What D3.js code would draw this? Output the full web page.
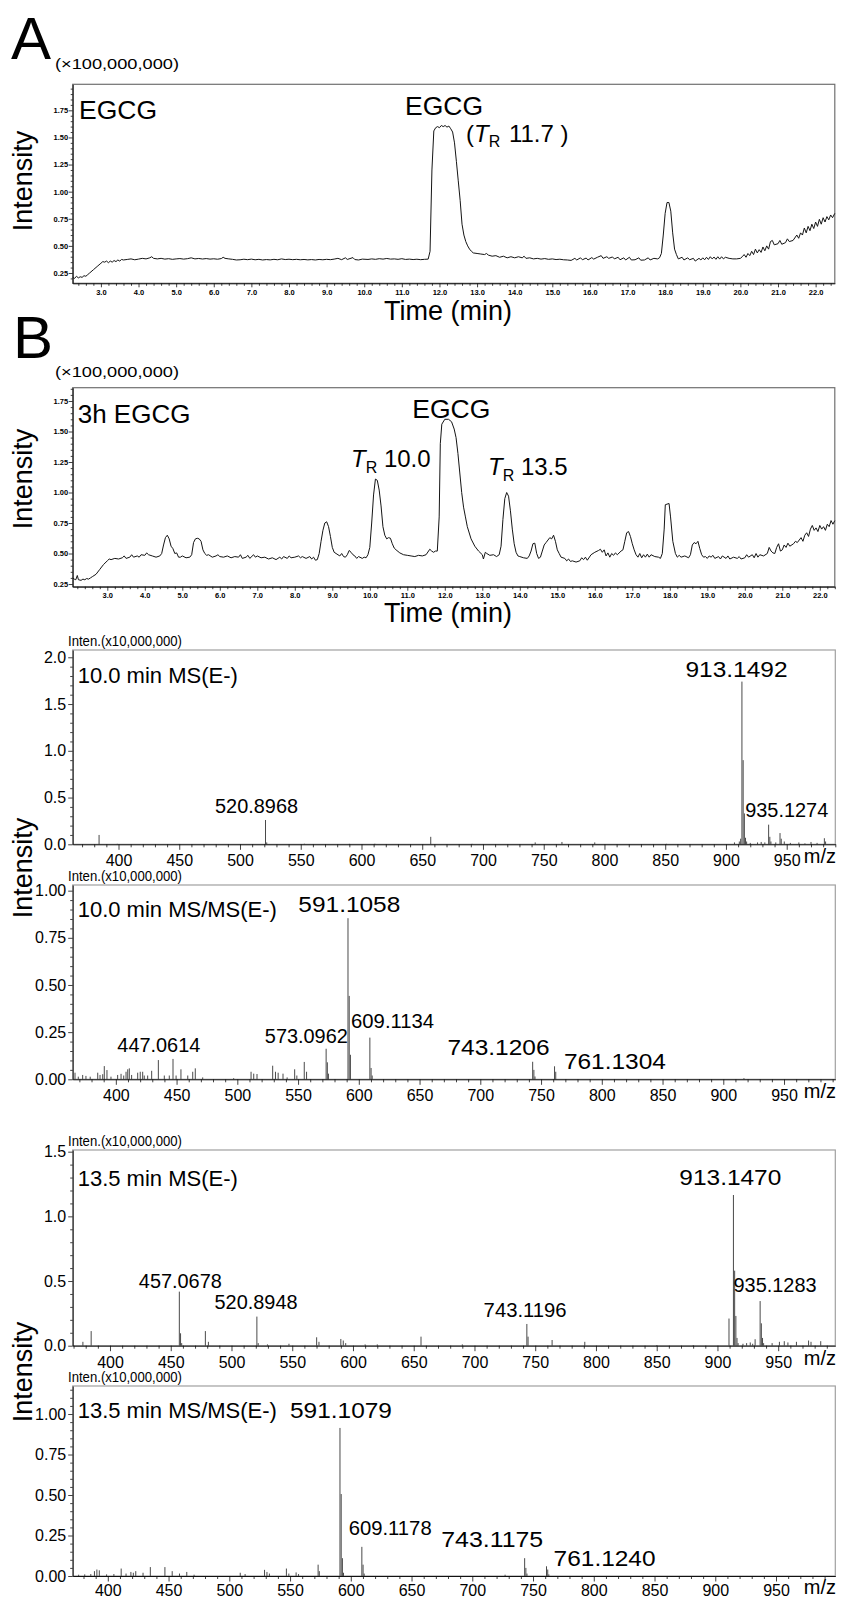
<!DOCTYPE html>
<html>
<head>
<meta charset="utf-8">
<script src="https://cdn.jsdelivr.net/npm/d3@7"></script>
<style>
  body { margin: 0; background: #fff; }
</style>
</head>
<body>
<div id="fig"></div>
<script>
// ---- chromatogram A : EGCG standard, [time (min), intensity x1e8]
const chromA = [
  [2.25,0.21],[2.3,0.20],[2.35,0.22],[2.4,0.205],[2.45,0.215],[2.5,0.21],[2.55,0.225],[2.6,0.22],[2.65,0.235],[2.7,0.25],
  [2.8,0.28],[2.9,0.31],[3.0,0.34],[3.05,0.355],[3.1,0.35],[3.15,0.36],[3.2,0.345],[3.25,0.36],[3.3,0.35],[3.35,0.365],
  [3.4,0.355],[3.45,0.37],[3.5,0.36],[3.55,0.375],[3.6,0.37],[3.7,0.375],[3.8,0.38],[3.9,0.372],[4.0,0.378],[4.1,0.385],
  [4.2,0.38],[4.3,0.39],[4.35,0.40],[4.4,0.385],[4.5,0.38],[4.6,0.385],[4.7,0.378],[4.8,0.382],[4.9,0.376],[5.0,0.38],
  [5.1,0.383],[5.2,0.378],[5.3,0.382],[5.4,0.39],[5.5,0.38],[5.6,0.384],[5.7,0.379],[5.8,0.383],[5.9,0.378],[6.0,0.381],
  [6.1,0.377],[6.2,0.383],[6.25,0.395],[6.3,0.385],[6.4,0.38],[6.5,0.376],[6.6,0.37],[6.7,0.372],[6.8,0.377],[6.9,0.373],
  [7.0,0.378],[7.1,0.372],[7.2,0.376],[7.3,0.37],[7.4,0.374],[7.5,0.371],[7.6,0.376],[7.7,0.372],[7.8,0.38],[7.9,0.374],
  [8.0,0.377],[8.1,0.373],[8.2,0.376],[8.3,0.372],[8.4,0.375],[8.5,0.371],[8.6,0.374],[8.7,0.37],[8.8,0.375],[8.9,0.372],
  [9.0,0.376],[9.1,0.373],[9.2,0.378],[9.3,0.385],[9.4,0.373],[9.5,0.39],[9.55,0.375],[9.7,0.392],[9.75,0.374],[9.85,0.37],
  [9.95,0.378],[10.1,0.375],[10.2,0.38],[10.3,0.376],[10.4,0.382],[10.5,0.378],[10.6,0.384],[10.7,0.378],[10.8,0.38],[10.9,0.376],
  [11.0,0.382],[11.1,0.375],[11.2,0.378],[11.3,0.374],[11.4,0.377],[11.5,0.373],[11.6,0.376],[11.7,0.378],
  [11.75,0.45],[11.8,1.2],[11.85,1.56],[11.9,1.59],[11.95,1.6],[12.0,1.59],[12.05,1.61],[12.1,1.6],[12.15,1.61],[12.2,1.595],
  [12.25,1.605],[12.3,1.58],[12.35,1.55],[12.4,1.45],[12.45,1.28],[12.5,1.1],[12.55,0.92],[12.6,0.70],[12.65,0.6],[12.7,0.54],
  [12.75,0.5],[12.8,0.47],[12.85,0.45],[12.9,0.435],[13.0,0.43],[13.1,0.425],[13.2,0.42],[13.25,0.43],[13.3,0.415],[13.4,0.405],
  [13.5,0.41],[13.6,0.395],[13.7,0.405],[13.8,0.39],[13.9,0.40],[14.0,0.39],[14.1,0.4],[14.2,0.39],[14.25,0.405],[14.3,0.385],
  [14.4,0.39],[14.5,0.38],[14.6,0.385],[14.7,0.378],[14.8,0.383],[14.9,0.376],[15.0,0.38],[15.1,0.374],[15.2,0.377],[15.3,0.372],
  [15.4,0.37],[15.5,0.366],[15.6,0.385],[15.65,0.37],[15.75,0.39],[15.8,0.372],[15.9,0.388],[15.95,0.37],[16.05,0.392],[16.1,0.378],
  [16.2,0.395],[16.3,0.41],[16.35,0.385],[16.45,0.4],[16.5,0.385],[16.6,0.398],[16.65,0.38],[16.75,0.395],[16.8,0.372],[16.9,0.39],
  [16.95,0.37],[17.05,0.395],[17.1,0.37],[17.2,0.372],[17.3,0.39],[17.35,0.368],[17.45,0.37],[17.55,0.39],[17.6,0.37],[17.7,0.385],
  [17.8,0.38],[17.85,0.39],[17.9,0.43],[17.95,0.6],[18.0,0.8],[18.05,0.9],[18.1,0.9],[18.15,0.82],[18.2,0.62],[18.25,0.47],
  [18.3,0.42],[18.35,0.38],[18.45,0.395],[18.5,0.37],[18.6,0.39],[18.65,0.372],[18.75,0.385],[18.8,0.36],[18.9,0.385],[18.95,0.37],
  [19.0,0.39],[19.05,0.372],[19.1,0.395],[19.15,0.375],[19.2,0.4],[19.25,0.38],[19.3,0.397],[19.35,0.376],[19.4,0.40],[19.45,0.378],
  [19.5,0.4],[19.55,0.38],[19.6,0.395],[19.7,0.385],[19.8,0.38],[19.9,0.38],[20.0,0.385],[20.05,0.40],[20.1,0.42],[20.15,0.395],
  [20.2,0.43],[20.25,0.41],[20.3,0.45],[20.35,0.42],[20.4,0.47],[20.45,0.435],[20.5,0.465],[20.55,0.44],[20.6,0.49],[20.65,0.455],
  [20.7,0.5],[20.75,0.47],[20.8,0.54],[20.85,0.55],[20.9,0.51],[21.0,0.52],[21.05,0.55],[21.1,0.515],[21.2,0.53],[21.25,0.565],
  [21.3,0.54],[21.4,0.55],[21.5,0.6],[21.55,0.57],[21.6,0.62],[21.65,0.6],[21.7,0.665],[21.75,0.62],[21.8,0.68],[21.85,0.64],
  [21.9,0.7],[21.95,0.66],[22.0,0.72],[22.05,0.68],[22.1,0.745],[22.15,0.7],[22.2,0.76],[22.25,0.72],[22.3,0.77],[22.35,0.74],
  [22.4,0.785],[22.45,0.76],[22.51,0.80]
];

// ---- chromatogram B : 3h EGCG
const chromB = [
  [2.08,0.30],[2.12,0.29],[2.16,0.285],[2.2,0.32],[2.23,0.285],[2.3,0.28],[2.35,0.29],[2.4,0.285],[2.45,0.295],[2.5,0.29],
  [2.55,0.30],[2.6,0.31],[2.7,0.33],[2.8,0.37],[2.9,0.41],[3.0,0.44],[3.05,0.455],[3.1,0.45],[3.2,0.46],[3.3,0.455],
  [3.4,0.465],[3.45,0.48],[3.5,0.46],[3.6,0.47],[3.65,0.49],[3.7,0.47],[3.8,0.48],[3.85,0.47],[3.9,0.49],[4.0,0.485],
  [4.05,0.505],[4.1,0.49],[4.2,0.48],[4.3,0.47],[4.4,0.48],[4.45,0.50],[4.5,0.57],[4.55,0.63],[4.6,0.65],[4.65,0.62],
  [4.7,0.56],[4.75,0.54],[4.8,0.50],[4.85,0.505],[4.9,0.47],[4.95,0.47],[5.0,0.48],[5.1,0.465],[5.2,0.47],[5.25,0.49],
  [5.3,0.59],[5.35,0.62],[5.4,0.625],[5.45,0.62],[5.5,0.60],[5.55,0.53],[5.6,0.5],[5.65,0.485],[5.7,0.49],[5.8,0.47],
  [5.9,0.48],[5.95,0.49],[6.0,0.475],[6.1,0.47],[6.2,0.48],[6.3,0.465],[6.4,0.475],[6.5,0.47],[6.55,0.49],[6.6,0.46],
  [6.7,0.47],[6.75,0.485],[6.8,0.46],[6.9,0.49],[6.95,0.47],[7.0,0.48],[7.1,0.465],[7.2,0.47],[7.3,0.455],[7.4,0.465],
  [7.5,0.45],[7.6,0.47],[7.65,0.455],[7.7,0.475],[7.8,0.46],[7.85,0.48],[7.9,0.465],[8.0,0.47],[8.1,0.48],[8.15,0.465],
  [8.2,0.475],[8.3,0.46],[8.4,0.475],[8.45,0.455],[8.5,0.47],[8.55,0.445],[8.6,0.45],[8.65,0.5],[8.7,0.6],[8.75,0.69],
  [8.8,0.75],[8.85,0.76],[8.9,0.72],[8.95,0.64],[9.0,0.55],[9.05,0.51],[9.1,0.5],[9.2,0.48],[9.25,0.5],[9.3,0.475],
  [9.35,0.47],[9.4,0.49],[9.45,0.525],[9.5,0.51],[9.55,0.49],[9.6,0.48],[9.65,0.46],[9.7,0.475],[9.8,0.46],[9.85,0.47],
  [9.9,0.465],[9.95,0.49],[10.0,0.55],[10.05,0.75],[10.1,0.98],[10.15,1.11],[10.2,1.10],[10.25,1.02],[10.3,0.89],[10.35,0.72],
  [10.4,0.65],[10.45,0.62],[10.5,0.63],[10.55,0.625],[10.6,0.58],[10.65,0.545],[10.7,0.53],[10.8,0.505],[10.9,0.49],[11.0,0.485],
  [11.1,0.48],[11.2,0.475],[11.3,0.485],[11.4,0.48],[11.5,0.49],[11.6,0.535],[11.65,0.52],[11.7,0.51],[11.75,0.52],[11.8,0.52],
  [11.85,0.8],[11.88,1.4],[11.92,1.56],[12.0,1.60],[12.1,1.6],[12.18,1.58],[12.25,1.52],[12.3,1.45],[12.35,1.32],[12.4,1.16],
  [12.45,1.0],[12.5,0.88],[12.55,0.80],[12.6,0.72],[12.7,0.62],[12.8,0.56],[12.9,0.52],[13.0,0.49],[13.03,0.455],[13.08,0.51],
  [13.12,0.5],[13.2,0.485],[13.3,0.49],[13.38,0.475],[13.45,0.49],[13.5,0.56],[13.55,0.78],[13.6,0.95],[13.65,1.0],[13.7,0.97],
  [13.75,0.85],[13.8,0.70],[13.85,0.58],[13.9,0.51],[13.95,0.48],[14.0,0.475],[14.1,0.465],[14.2,0.46],[14.25,0.48],[14.3,0.52],
  [14.35,0.58],[14.4,0.585],[14.45,0.5],[14.5,0.46],[14.55,0.47],[14.6,0.52],[14.65,0.57],[14.7,0.59],[14.8,0.63],[14.85,0.62],
  [14.9,0.65],[14.95,0.6],[15.0,0.53],[15.05,0.5],[15.1,0.47],[15.2,0.46],[15.25,0.44],[15.3,0.455],[15.35,0.435],[15.4,0.44],
  [15.5,0.43],[15.6,0.44],[15.65,0.465],[15.7,0.45],[15.75,0.47],[15.8,0.445],[15.9,0.49],[16.0,0.51],[16.1,0.525],[16.15,0.535],
  [16.2,0.51],[16.25,0.53],[16.3,0.48],[16.35,0.505],[16.4,0.47],[16.45,0.5],[16.5,0.485],[16.55,0.505],[16.6,0.49],[16.7,0.52],
  [16.75,0.53],[16.8,0.6],[16.85,0.67],[16.9,0.68],[16.95,0.64],[17.0,0.58],[17.05,0.53],[17.1,0.49],[17.15,0.47],[17.2,0.50],
  [17.25,0.465],[17.3,0.49],[17.35,0.47],[17.4,0.495],[17.45,0.47],[17.5,0.49],[17.6,0.475],[17.7,0.47],[17.75,0.46],[17.8,0.5],
  [17.85,0.7],[17.88,0.9],[17.98,0.91],[18.02,0.8],[18.08,0.6],[18.15,0.5],[18.2,0.47],[18.25,0.485],[18.3,0.47],[18.4,0.48],
  [18.5,0.465],[18.55,0.49],[18.6,0.57],[18.65,0.59],[18.7,0.58],[18.75,0.60],[18.8,0.54],[18.85,0.49],[18.9,0.47],[18.95,0.475],
  [19.0,0.46],[19.05,0.48],[19.1,0.47],[19.15,0.485],[19.2,0.46],[19.3,0.475],[19.35,0.455],[19.4,0.48],[19.5,0.46],[19.55,0.48],
  [19.6,0.455],[19.7,0.47],[19.8,0.46],[19.85,0.475],[19.9,0.455],[20.0,0.465],[20.05,0.49],[20.1,0.47],[20.2,0.49],[20.25,0.465],
  [20.3,0.50],[20.35,0.47],[20.4,0.49],[20.5,0.48],[20.6,0.5],[20.65,0.55],[20.7,0.52],[20.75,0.505],[20.8,0.5],[20.85,0.55],
  [20.9,0.58],[20.95,0.52],[21.0,0.53],[21.05,0.57],[21.1,0.55],[21.15,0.585],[21.2,0.56],[21.3,0.58],[21.35,0.6],[21.4,0.59],
  [21.5,0.63],[21.55,0.6],[21.6,0.65],[21.65,0.67],[21.7,0.64],[21.75,0.7],[21.8,0.73],[21.85,0.69],[21.9,0.71],[21.95,0.68],
  [22.0,0.73],[22.05,0.70],[22.1,0.72],[22.15,0.69],[22.2,0.74],[22.25,0.72],[22.3,0.77],[22.35,0.74],[22.4,0.77]
];

// ---- mass spectra, [m/z, intensity x1e7]
const ms10 = [
  [384.0,0.10],[399,0.005],[450,0.004],[521.0,0.26],[522,0.02],[553,0.006],[590,0.005],[611,0.006],[657.0,0.08],[691,0.005],
  [743,0.02],[765,0.025],[792,0.02],[851,0.005],[907,0.02],[911,0.03],[912.1,0.06],[913.15,1.74],[914.15,0.90],[915.15,0.33],
  [916.1,0.07],[917,0.03],[920,0.015],[926,0.02],[929,0.025],[932,0.02],[935.13,0.21],[936.1,0.08],[937,0.03],[941,0.02],
  [944.5,0.12],[945.5,0.06],[948,0.03],[953,0.015],[960,0.02],[965,0.01],[970,0.025],[975,0.015],[981,0.065],[982,0.03]
];
const msms10 = [
  [366.4,0.035],[369.1,0.014],[372.7,0.023],[375.4,0.018],[378.9,0.014],[385.1,0.035],[387,0.023],[389.2,0.027],[390.5,0.07],[392.7,0.049],
  [396,0.014],[401.5,0.023],[404.3,0.029],[406.5,0.02],[408.4,0.04],[409.8,0.053],[411.1,0.058],[413,0.023],[418,0.035],[420.1,0.04],
  [422.1,0.04],[423.4,0.02],[426.2,0.02],[429.5,0.045],[435.0,0.102],[439.9,0.02],[444,0.02],[447.06,0.108],[449.6,0.02],[453.6,0.053],
  [459.2,0.02],[463.3,0.04],[465.4,0.058],[471.5,0.01],[497,0.006],[511.3,0.04],[513.5,0.03],[516.2,0.028],[529.1,0.072],[531.4,0.04],
  [533.6,0.035],[537.6,0.03],[541,0.01],[547.2,0.053],[549,0.02],[555.1,0.092],[557,0.04],[573.1,0.162],[574.1,0.09],[575,0.03],
  [591.1,0.854],[592.1,0.442],[593.1,0.13],[609.1,0.221],[610.1,0.06],[611,0.02],[743.1,0.093],[744.1,0.05],[745,0.015],[761.1,0.069],
  [762.1,0.04],[917,0.006]
];
const ms135 = [
  [377.7,0.03],[384.5,0.113],[457.07,0.418],[458.07,0.096],[459,0.02],[478.5,0.113],[481,0.03],[520.9,0.225],[522,0.02],[529.6,0.01],
  [547.3,0.015],[570.1,0.065],[572,0.03],[590,0.052],[592,0.04],[594,0.02],[610,0.01],[620,0.01],[656,0.07],[690,0.01],
  [743.12,0.168],[744.1,0.07],[763.9,0.044],[790.8,0.03],[850,0.005],[880,0.005],[909.5,0.21],[913.15,1.165],[914.15,0.58],[915.15,0.23],
  [916.1,0.06],[917,0.02],[921,0.015],[924,0.02],[927,0.025],[929,0.015],[931,0.05],[935.13,0.345],[936.13,0.173],[937.1,0.06],
  [938,0.02],[945,0.02],[951,0.03],[955,0.035],[958,0.025],[965,0.03],[975,0.04],[977,0.03],[985,0.035]
];
const msms135 = [
  [376,0.008],[381,0.01],[386,0.012],[389,0.03],[391,0.04],[393,0.035],[399,0.01],[405,0.012],[411,0.046],[415,0.015],
  [419,0.025],[421,0.02],[423,0.03],[429,0.02],[435,0.055],[447,0.055],[453,0.03],[459,0.015],[465,0.025],[471,0.008],
  [509,0.02],[513,0.012],[529,0.038],[531,0.025],[533,0.015],[547,0.046],[549,0.015],[555,0.022],[557,0.012],[573.1,0.07],
  [574.1,0.03],[591.1,0.914],[592.1,0.506],[593.1,0.11],[594,0.02],[609.1,0.18],[610.1,0.07],[611,0.015],[727,0.008],[743.1,0.11],
  [744.1,0.05],[745,0.015],[761.1,0.06],[762.1,0.04],[763,0.01]
];

// peak labels: [text, m/z at label centre, intensity at label baseline]
const ms10Labels = [["913.1492",908.7,1.79],["935.1274",950.0,0.295],["520.8968",513.6,0.338]];
const msms10Labels = [["591.1058",592.2,0.886],["609.1134",627.8,0.270],["573.0962",556.8,0.191],
  ["447.0614",435.4,0.146],["743.1206",715.0,0.129],["761.1304",810.8,0.053]];
const ms135Labels = [["913.1470",910.6,1.243],["457.0678",457.9,0.444],["520.8948",520.2,0.282],
  ["743.1196",741.7,0.224],["935.1283",947.4,0.413]];
const msms135Labels = [["591.1079",591.9,0.974],["609.1178",632.4,0.251],["743.1175",716.4,0.181],["761.1240",808.9,0.064]];
const bigLabels = ["913.1492","591.1058","743.1206","761.1304","913.1470","591.1079","743.1175","761.1240"];

// ticks
const chromXTicks = d3.range(3, 23);
const chromYTicks = [0.25, 0.50, 0.75, 1.00, 1.25, 1.50, 1.75];
const msXTicks = d3.range(400, 951, 50);
const ms1YTicks = [0, 0.5, 1.0, 1.5, 2.0];
const msmsYTicks = [0, 0.25, 0.5, 0.75, 1.0];

const W = 841, H = 1602;
const FONT = '"Liberation Sans", Arial, Helvetica, sans-serif';
const NARROW = '"Liberation Sans Narrow", "Arial Narrow", "Liberation Sans", sans-serif';
const LEFT = 72.7, RIGHT = 834.8;

const svg = d3.select("#fig").append("svg")
  .attr("width", W).attr("height", H).style("display", "block");

const addText = (x, y, txt, size, o = {}) => {
  const t = svg.append("text").attr("x", x).attr("y", y)
    .attr("font-size", size).attr("font-family", o.family || FONT)
    .attr("fill", "#000").attr("text-anchor", o.anchor || "start").text(txt);
  if (o.len) t.attr("textLength", o.len).attr("lengthAdjust", "spacingAndGlyphs");
  if (o.rot) t.attr("transform", `rotate(-90,${x},${y})`);
  return t;
};

const minorVals = (lo, hi, step, majors) => {
  const n0 = Math.ceil(lo / step - 1e-9), n1 = Math.floor(hi / step + 1e-9);
  return d3.range(n0, n1 + 1).map(i => +(i * step).toFixed(4))
    .filter(v => !majors.some(m => Math.abs(m - v) < 1e-6));
};

const styleAxis = (sel, size, family, weight) => {
  sel.attr("color", "#111");
  sel.selectAll("text").attr("font-size", size).attr("font-family", family)
    .attr("font-weight", weight || "normal").attr("fill", "#000");
  sel.selectAll("line").attr("stroke-width", 0.8);
};

// ---- chromatogram panel
const chromatogram = (data, p) => {
  const x = d3.scaleLinear().domain(p.xDom).range([LEFT, RIGHT]);
  const y = d3.scaleLinear().domain(p.yDom).range([p.bottom, p.top]);

  svg.append("rect").attr("x", LEFT).attr("y", p.top)
    .attr("width", RIGHT - LEFT).attr("height", p.bottom - p.top)
    .attr("fill", "none").attr("stroke", "#707070").attr("stroke-width", 1.2);

  const xt = chromXTicks.filter(v => v >= p.xDom[0] && v <= p.xDom[1]);
  svg.append("g").attr("transform", `translate(0,${p.bottom})`)
    .call(d3.axisBottom(x).tickValues(minorVals(p.xDom[0], p.xDom[1], 0.2, xt))
      .tickSize(2.5).tickSizeOuter(0).tickFormat(""))
    .call(s => s.select(".domain").remove())
    .call(s => styleAxis(s));
  svg.append("g").attr("transform", `translate(0,${p.bottom})`)
    .call(d3.axisBottom(x).tickValues(xt).tickSize(4).tickSizeOuter(0)
      .tickPadding(2).tickFormat(d3.format(".1f")))
    .call(s => styleAxis(s, 7.5, NARROW, "bold"));

  svg.append("g").attr("transform", `translate(${LEFT},0)`)
    .call(d3.axisLeft(y).tickValues(minorVals(p.yDom[0], p.yDom[1], 0.05, chromYTicks))
      .tickSize(2).tickSizeOuter(0).tickFormat(""))
    .call(s => s.select(".domain").remove())
    .call(s => styleAxis(s));
  svg.append("g").attr("transform", `translate(${LEFT},0)`)
    .call(d3.axisLeft(y).tickValues(chromYTicks).tickSize(4).tickSizeOuter(0)
      .tickPadding(0.5).tickFormat(d3.format(".2f")))
    .call(s => styleAxis(s, 7.5, NARROW, "bold"));

  svg.append("path").datum(data)
    .attr("fill", "none").attr("stroke", "#151515").attr("stroke-width", 1)
    .attr("stroke-linejoin", "round")
    .attr("d", d3.line().x(d => x(d[0])).y(d => y(d[1])));
  return { x, y };
};

// ---- mass spectrum panel
const spectrum = (peaks, labels, p) => {
  const x = d3.scaleLinear().domain(p.xDom).range([LEFT, RIGHT + 0.5]);
  const y = d3.scaleLinear().domain(p.yDom).range([p.bottom, p.top]);
  const pad = p.pad === undefined ? 5 : p.pad;

  svg.append("rect").attr("x", LEFT).attr("y", p.top)
    .attr("width", RIGHT + 0.5 - LEFT).attr("height", p.bottom - p.top)
    .attr("fill", "none").attr("stroke", "#a0a0a0").attr("stroke-width", 1.2);

  svg.append("g").selectAll("line").data(peaks).join("line")
    .attr("x1", d => x(d[0])).attr("x2", d => x(d[0]))
    .attr("y1", y(0)).attr("y2", d => y(d[1]))
    .attr("stroke", "#4a4a4a").attr("stroke-width", 1);

  svg.append("g").attr("transform", `translate(0,${p.bottom})`)
    .call(d3.axisBottom(x).tickValues(minorVals(p.xDom[0], p.xDom[1], 10, msXTicks))
      .tickSize(3).tickSizeOuter(0).tickFormat(""))
    .call(s => s.select(".domain").remove())
    .call(s => styleAxis(s));
  svg.append("g").attr("transform", `translate(0,${p.bottom})`)
    .call(d3.axisBottom(x).tickValues(msXTicks).tickSize(5.5).tickSizeOuter(0)
      .tickPadding(pad).tickFormat(d3.format("d")))
    .call(s => styleAxis(s, 16, NARROW));

  svg.append("g").attr("transform", `translate(${LEFT},0)`)
    .call(d3.axisLeft(y).tickValues(minorVals(0, p.yDom[1], p.yMinor, p.yTicks))
      .tickSize(2.5).tickSizeOuter(0).tickFormat(""))
    .call(s => s.select(".domain").remove())
    .call(s => styleAxis(s));
  svg.append("g").attr("transform", `translate(${LEFT},0)`)
    .call(d3.axisLeft(y).tickValues(p.yTicks).tickSize(4.5).tickSizeOuter(0)
      .tickPadding(2).tickFormat(d3.format(p.fmt)))
    .call(s => styleAxis(s, 16, NARROW));

  addText(68, p.top - 4, "Inten.(x10,000,000)", 14, { family: NARROW, len: 114 });
  addText(77.7, p.titleY, p.title, 22);
  addText(836, p.bottom + 17 + pad / 2.5, "m/z", 20, { anchor: "end" });

  labels.forEach(([t, mz, v]) => {
    const big = bigLabels.includes(t);
    addText(x(mz), y(v), t, big ? 22 : 20, { anchor: "middle", len: big ? 102 : 83 });
  });
};

// ---------------- panel A
addText(11, 59.3, "A", 60);
addText(55, 69, "(×100,000,000)", 15, { len: 124 });
addText(32, 181, "Intensity", 27, { anchor: "middle", rot: true });
chromatogram(chromA, { xDom: [2.25, 22.51], yDom: [0.155, 1.99], top: 84.3, bottom: 283.3 });
addText(79, 119, "EGCG", 26.5);
addText(405, 115, "EGCG", 26.5);
const trA = addText(466, 141.7, "(", 24);
trA.append("tspan").attr("font-style", "italic").text("T");
trA.append("tspan").attr("font-size", 16).attr("dy", 5).text("R");
trA.append("tspan").attr("dy", -5).attr("dx", 2).text(" 11.7 )");
addText(448, 320, "Time (min)", 27, { anchor: "middle" });

// ---------------- panel B
addText(13, 358, "B", 60);
addText(55, 377, "(×100,000,000)", 15, { len: 124 });
addText(32, 479, "Intensity", 27, { anchor: "middle", rot: true });
chromatogram(chromB, { xDom: [2.077, 22.4], yDom: [0.228, 1.859], top: 387.7, bottom: 586.7 });
addText(77.7, 423, "3h EGCG", 26);
addText(412.3, 418, "EGCG", 26.5);
const trB1 = addText(351, 466.7, "", 24);
trB1.append("tspan").attr("font-style", "italic").text("T");
trB1.append("tspan").attr("font-size", 16).attr("dy", 6).text("R");
trB1.append("tspan").attr("dy", -6).text(" 10.0");
const trB2 = addText(488, 475, "", 24);
trB2.append("tspan").attr("font-style", "italic").text("T");
trB2.append("tspan").attr("font-size", 16).attr("dy", 6).text("R");
trB2.append("tspan").attr("dy", -6).text(" 13.5");
addText(448, 622, "Time (min)", 27, { anchor: "middle" });

// ---------------- spectra
addText(32, 868, "Intensity", 27, { anchor: "middle", rot: true });
addText(32, 1372, "Intensity", 27, { anchor: "middle", rot: true });

spectrum(ms10, ms10Labels, {
  xDom: [362.3, 990.0], yDom: [0, 2.078], top: 650, bottom: 844.3,
  yTicks: ms1YTicks, yMinor: 0.1, fmt: ".1f", title: "10.0 min MS(E-)", titleY: 683
});
spectrum(msms10, msms10Labels, {
  xDom: [364.5, 992.2], yDom: [0, 1.03], top: 885, bottom: 1079.3,
  yTicks: msmsYTicks, yMinor: 0.05, fmt: ".2f", title: "10.0 min MS/MS(E-)", titleY: 917
});
spectrum(ms135, ms135Labels, {
  xDom: [369.3, 997.0], yDom: [0, 1.513], top: 1150, bottom: 1345.7,
  yTicks: ms1YTicks.filter(v => v <= 1.5), yMinor: 0.1, fmt: ".1f", title: "13.5 min MS(E-)", titleY: 1185.7
});
spectrum(msms135, msms135Labels, {
  xDom: [371.1, 998.8], yDom: [0, 1.173], top: 1386, bottom: 1576,
  yTicks: msmsYTicks, yMinor: 0.05, fmt: ".2f", title: "13.5 min MS/MS(E-)", titleY: 1418.3, pad: 3
});
</script>
</body>
</html>
